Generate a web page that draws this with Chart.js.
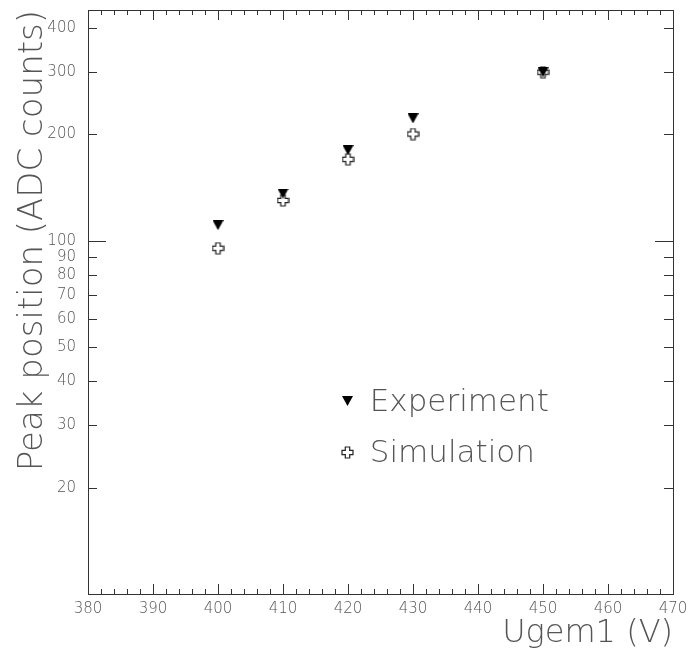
<!DOCTYPE html>
<html>
<head>
<meta charset="utf-8">
<script src="https://cdn.jsdelivr.net/npm/chart.js@4.4.1/dist/chart.umd.min.js"></script>
<style>
  html, body { margin: 0; padding: 0; background: #fff; }
  #wrap { width: 698px; height: 653px; }
</style>
</head>
<body>
<div id="wrap"><canvas id="peak"></canvas></div>
<script>
// gain scan: peak position vs GEM1 voltage
const voltages = [400, 410, 420, 430, 450];
const experiment = [110.7, 136, 180.5, 222, 300];
const simulation = [95.2, 130, 170, 200.5, 300];
const yTickValues = [20, 30, 40, 50, 60, 70, 80, 90, 100, 200, 300, 400];

const textColor = '#555';
const fontFamily = "'DejaVu Sans', sans-serif";

// markers as small canvases, PAW style
function makeTriangleDown(w, h) {
  const c = document.createElement('canvas');
  c.width = w; c.height = h;
  const g = c.getContext('2d');
  g.fillStyle = '#000';
  g.beginPath();
  g.moveTo(0, 0);
  g.lineTo(w, 0);
  g.lineTo(w / 2, h);
  g.closePath();
  g.fill();
  return c;
}

function makeOpenCross(size) {
  const c = document.createElement('canvas');
  c.width = size; c.height = size;
  const g = c.getContext('2d');
  const m = size / 2, o = size / 2 - 1, w = 2.2;
  g.strokeStyle = '#222';
  g.lineWidth = 1.2;
  g.beginPath();
  g.moveTo(m - w, m - o); g.lineTo(m + w, m - o); g.lineTo(m + w, m - w);
  g.lineTo(m + o, m - w); g.lineTo(m + o, m + w); g.lineTo(m + w, m + w);
  g.lineTo(m + w, m + o); g.lineTo(m - w, m + o); g.lineTo(m - w, m + w);
  g.lineTo(m - o, m + w); g.lineTo(m - o, m - w); g.lineTo(m - w, m - w);
  g.closePath();
  g.stroke();
  return c;
}

const triDown = makeTriangleDown(11, 10);
const openCross = makeOpenCross(13);

// box + inward ticks on all four sides
const frameTicks = {
  id: 'frameTicks',
  afterDatasetsDraw(chart) {
    const { ctx, chartArea: a, scales: { x, y } } = chart;
    ctx.save();
    ctx.strokeStyle = '#333';
    ctx.lineWidth = 1;
    ctx.strokeRect(a.left + 0.5, a.top + 0.5, a.right - a.left, a.bottom - a.top);
    ctx.beginPath();
    for (let v = x.min; v <= x.max; v += 2) {
      const px = Math.round(x.getPixelForValue(v)) + 0.5;
      const len = v % 10 === 0 ? 10 : 5;
      ctx.moveTo(px, a.bottom); ctx.lineTo(px, a.bottom - len);
      ctx.moveTo(px, a.top); ctx.lineTo(px, a.top + len);
    }
    yTickValues.forEach(v => {
      const py = Math.round(y.getPixelForValue(v)) + 0.5;
      const len = v === 100 ? 18 : 9;
      ctx.moveTo(a.left, py); ctx.lineTo(a.left + len, py);
      ctx.moveTo(a.right, py); ctx.lineTo(a.right - len, py);
    });
    ctx.stroke();
    ctx.restore();
  }
};

// legend inside the plot
const innerLegend = {
  id: 'innerLegend',
  afterDraw(chart) {
    const { ctx, chartArea: a } = chart;
    const mx = a.left + 0.444 * (a.right - a.left);
    const rows = [0.6695, 0.757];
    ctx.save();
    ctx.font = "300 31px " + fontFamily;
    ctx.fillStyle = textColor;
    ctx.textBaseline = 'middle';
    chart.data.datasets.forEach((ds, i) => {
      const my = a.top + rows[i] * (a.bottom - a.top);
      const img = ds.pointStyle;
      ctx.drawImage(img, Math.round(mx - img.width / 2), Math.round(my - img.height / 2));
      ctx.fillText(ds.label, mx + 22, my + 2);
    });
    ctx.restore();
  }
};

const toPoints = vals => voltages.map((v, i) => ({ x: v, y: vals[i] }));

new Chart(document.getElementById('peak'), {
  type: 'scatter',
  data: {
    datasets: [
      { label: 'Experiment', data: toPoints(experiment), pointStyle: triDown, order: 0 },
      { label: 'Simulation', data: toPoints(simulation), pointStyle: openCross, order: 1 }
    ]
  },
  options: {
    responsive: true,
    maintainAspectRatio: false,
    animation: false,
    layout: { padding: { top: 10, right: 25, left: 0, bottom: 0 } },
    plugins: {
      legend: { display: false },
      tooltip: { enabled: false }
    },
    scales: {
      x: {
        type: 'linear',
        min: 380,
        max: 470,
        afterFit(s) { s.height = 59; s.paddingLeft = 0; s.paddingRight = 0; },
        grid: { display: false, drawTicks: false },
        border: { display: false },
        ticks: {
          stepSize: 10,
          autoSkip: false,
          maxRotation: 0,
          padding: 6,
          color: textColor,
          font: { family: fontFamily, size: 15, weight: 300 }
        },
        title: {
          display: true,
          text: 'Ugem1 (V)',
          align: 'end',
          color: textColor,
          padding: 0,
          font: { family: fontFamily, size: 32, weight: 300 }
        }
      },
      y: {
        type: 'logarithmic',
        min: 10,
        max: 450,
        afterBuildTicks(s) { s.ticks = yTickValues.map(v => ({ value: v })); },
        afterFit(s) { s.width = 88; s.paddingTop = 0; s.paddingBottom = 0; },
        grid: { display: false, drawTicks: false },
        border: { display: false },
        ticks: {
          autoSkip: false,
          padding: 12,
          color: textColor,
          font: { family: fontFamily, size: 15, weight: 300 },
          callback: v => String(v)
        },
        title: {
          display: true,
          text: 'Peak position (ADC counts)',
          align: 'end',
          color: textColor,
          padding: { top: 13, bottom: 0 },
          font: { family: fontFamily, size: 34, weight: 300 }
        }
      }
    }
  },
  plugins: [frameTicks, innerLegend]
});
</script>
</body>
</html>
